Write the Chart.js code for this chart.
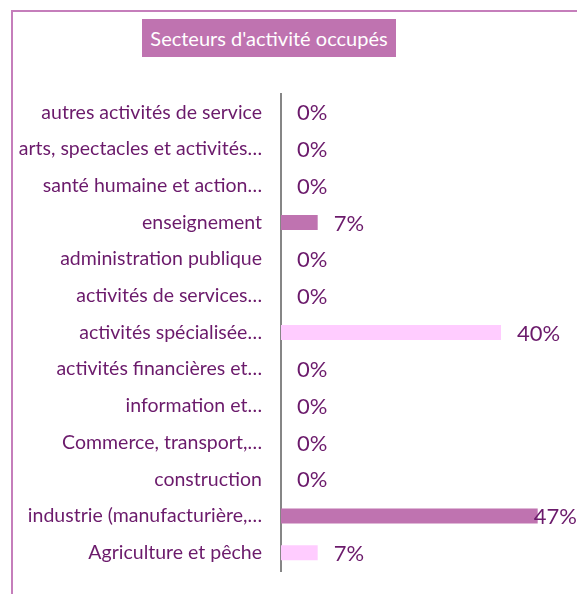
<!DOCTYPE html>
<html lang="fr">
<head>
    <meta charset="UTF-8">
    <title>Secteurs d'activité occupés</title>
    <script src="https://cdn.jsdelivr.net/npm/chart.js"></script>
    <style>
        body {
            margin: 0;
            background: #fff;
            font-family: 'Lato', sans-serif;
        }
        .frame {
            position: relative;
            width: 577px;
            height: 594px;
            overflow: hidden;
        }
        .border {
            position: absolute;
            left: 11px;
            top: 10px;
            width: 700px;
            height: 700px;
            border-left: 2px solid #c57ebb;
            border-top: 2px solid #c57ebb;
        }
        .title {
            position: absolute;
            left: 142px;
            top: 19px;
            width: 254px;
            height: 38px;
            line-height: 38px;
            background: #bf73b0;
            color: #fff;
            font-size: 20px;
            text-align: center;
            white-space: nowrap;
        }
        canvas {
            position: absolute;
            left: 0;
            top: 0;
        }
    </style>
</head>
<body>
    <div class="frame">
        <div class="border"></div>
        <div class="title">Secteurs d'activité occupés</div>
        <canvas id="sectorChart" width="577" height="594"></canvas>
    </div>

    <script>
        // categories top to bottom
        const sectors = [
            "autres activités de service",
            "arts, spectacles et activités…",
            "santé humaine et action…",
            "enseignement",
            "administration publique",
            "activités de services…",
            "activités spécialisée…",
            "activités financières et…",
            "information et…",
            "Commerce, transport,…",
            "construction",
            "industrie (manufacturière,…",
            "Agriculture et pêche"
        ];
        // share of respondents (%)
        const shares = [0, 0, 0, 6.67, 0, 0, 40, 0, 0, 0, 0, 46.67, 6.67];

        const lightPink = "#ffccff";
        const darkPink = "#bf73b0";
        const barColors = sectors.map((_, i) => i % 2 === 0 ? lightPink : darkPink);

        const valueLabels = {
            id: "valueLabels",
            afterDatasetsDraw(chart) {
                const ctx = chart.ctx;
                const meta = chart.getDatasetMeta(0);
                ctx.save();
                ctx.font = "22px Lato";
                ctx.fillStyle = "#6b1a6b";
                ctx.textBaseline = "middle";
                ctx.textAlign = "left";
                meta.data.forEach((bar, i) => {
                    const txt = Math.round(shares[i]) + "%";
                    const w = ctx.measureText(txt).width;
                    let x = bar.x + 16;
                    if (x + w > 577) x = 577 - w;
                    ctx.fillText(txt, x, bar.y + 1);
                });
                ctx.restore();
            }
        };

        new Chart(document.getElementById("sectorChart"), {
            type: "bar",
            data: {
                labels: sectors,
                datasets: [{
                    data: shares,
                    backgroundColor: barColors,
                    borderWidth: 0,
                    categoryPercentage: 1,
                    barPercentage: 0.41
                }]
            },
            options: {
                indexAxis: "y",
                responsive: false,
                animation: false,
                layout: {
                    padding: { top: 94, bottom: 23, right: 21, left: 0 }
                },
                plugins: {
                    legend: { display: false },
                    tooltip: { enabled: false }
                },
                scales: {
                    x: {
                        display: false,
                        min: 0,
                        max: 50
                    },
                    y: {
                        afterFit(scale) {
                            scale.width = 281;
                            scale.paddingTop = 0;
                            scale.paddingBottom = 0;
                        },
                        grid: { display: false, drawTicks: false },
                        border: { display: true, color: "#868686", width: 2 },
                        ticks: {
                            padding: 19,
                            color: "#6b1a6b",
                            font: { family: "Lato", size: 19.5 }
                        }
                    }
                }
            },
            plugins: [valueLabels]
        });
    </script>
</body>
</html>
